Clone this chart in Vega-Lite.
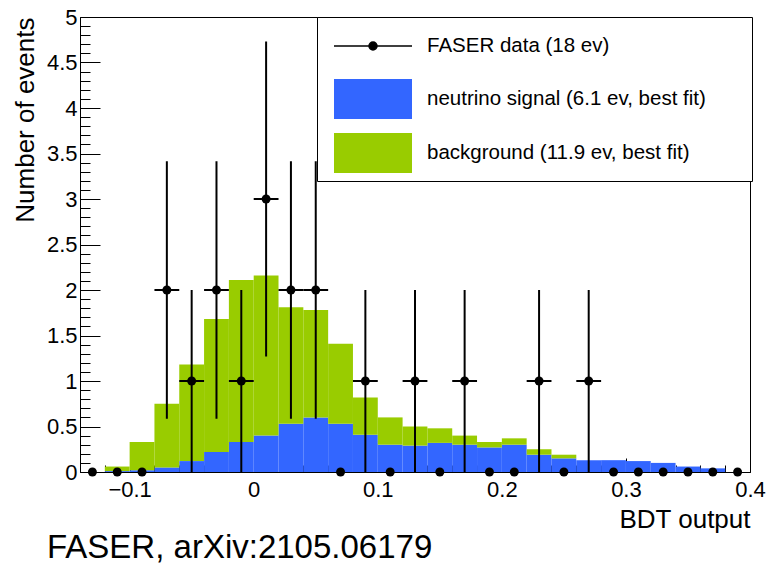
{
  "$schema": "https://vega.github.io/schema/vega-lite/v6.json",
  "autosize": "none",
  "width": 670,
  "height": 455,
  "padding": {"left": 80, "top": 17, "right": 20, "bottom": 91},
  "background": "white",
  "title": {
    "text": "FASER, arXiv:2105.06179",
    "orient": "bottom",
    "anchor": "start",
    "frame": "group",
    "offset": 0,
    "dx": -33,
    "fontSize": 33,
    "fontWeight": "normal",
    "font": "Liberation Sans",
    "color": "black"
  },
  "datasets": {
    "hist": [
      {"x0": -0.12, "x1": -0.10, "comp": "neutrino signal (6.1 ev, best fit)", "n": 0.01},
      {"x0": -0.10, "x1": -0.08, "comp": "neutrino signal (6.1 ev, best fit)", "n": 0.02},
      {"x0": -0.08, "x1": -0.06, "comp": "neutrino signal (6.1 ev, best fit)", "n": 0.05},
      {"x0": -0.06, "x1": -0.04, "comp": "neutrino signal (6.1 ev, best fit)", "n": 0.12},
      {"x0": -0.04, "x1": -0.02, "comp": "neutrino signal (6.1 ev, best fit)", "n": 0.22},
      {"x0": -0.02, "x1": 0.00, "comp": "neutrino signal (6.1 ev, best fit)", "n": 0.33},
      {"x0": 0.00, "x1": 0.02, "comp": "neutrino signal (6.1 ev, best fit)", "n": 0.40},
      {"x0": 0.02, "x1": 0.04, "comp": "neutrino signal (6.1 ev, best fit)", "n": 0.53},
      {"x0": 0.04, "x1": 0.06, "comp": "neutrino signal (6.1 ev, best fit)", "n": 0.60},
      {"x0": 0.06, "x1": 0.08, "comp": "neutrino signal (6.1 ev, best fit)", "n": 0.53},
      {"x0": 0.08, "x1": 0.10, "comp": "neutrino signal (6.1 ev, best fit)", "n": 0.41},
      {"x0": 0.10, "x1": 0.12, "comp": "neutrino signal (6.1 ev, best fit)", "n": 0.30},
      {"x0": 0.12, "x1": 0.14, "comp": "neutrino signal (6.1 ev, best fit)", "n": 0.29},
      {"x0": 0.14, "x1": 0.16, "comp": "neutrino signal (6.1 ev, best fit)", "n": 0.32},
      {"x0": 0.16, "x1": 0.18, "comp": "neutrino signal (6.1 ev, best fit)", "n": 0.30},
      {"x0": 0.18, "x1": 0.20, "comp": "neutrino signal (6.1 ev, best fit)", "n": 0.27},
      {"x0": 0.20, "x1": 0.22, "comp": "neutrino signal (6.1 ev, best fit)", "n": 0.30},
      {"x0": 0.22, "x1": 0.24, "comp": "neutrino signal (6.1 ev, best fit)", "n": 0.19},
      {"x0": 0.24, "x1": 0.26, "comp": "neutrino signal (6.1 ev, best fit)", "n": 0.15},
      {"x0": 0.26, "x1": 0.28, "comp": "neutrino signal (6.1 ev, best fit)", "n": 0.13},
      {"x0": 0.28, "x1": 0.30, "comp": "neutrino signal (6.1 ev, best fit)", "n": 0.13},
      {"x0": 0.30, "x1": 0.32, "comp": "neutrino signal (6.1 ev, best fit)", "n": 0.12},
      {"x0": 0.32, "x1": 0.34, "comp": "neutrino signal (6.1 ev, best fit)", "n": 0.10},
      {"x0": 0.34, "x1": 0.36, "comp": "neutrino signal (6.1 ev, best fit)", "n": 0.06},
      {"x0": 0.36, "x1": 0.38, "comp": "neutrino signal (6.1 ev, best fit)", "n": 0.04},
      {"x0": -0.12, "x1": -0.10, "comp": "background (11.9 ev, best fit)", "n": 0.05},
      {"x0": -0.10, "x1": -0.08, "comp": "background (11.9 ev, best fit)", "n": 0.31},
      {"x0": -0.08, "x1": -0.06, "comp": "background (11.9 ev, best fit)", "n": 0.70},
      {"x0": -0.06, "x1": -0.04, "comp": "background (11.9 ev, best fit)", "n": 1.06},
      {"x0": -0.04, "x1": -0.02, "comp": "background (11.9 ev, best fit)", "n": 1.46},
      {"x0": -0.02, "x1": 0.00, "comp": "background (11.9 ev, best fit)", "n": 1.78},
      {"x0": 0.00, "x1": 0.02, "comp": "background (11.9 ev, best fit)", "n": 1.76},
      {"x0": 0.02, "x1": 0.04, "comp": "background (11.9 ev, best fit)", "n": 1.28},
      {"x0": 0.04, "x1": 0.06, "comp": "background (11.9 ev, best fit)", "n": 1.18},
      {"x0": 0.06, "x1": 0.08, "comp": "background (11.9 ev, best fit)", "n": 0.88},
      {"x0": 0.08, "x1": 0.10, "comp": "background (11.9 ev, best fit)", "n": 0.41},
      {"x0": 0.10, "x1": 0.12, "comp": "background (11.9 ev, best fit)", "n": 0.30},
      {"x0": 0.12, "x1": 0.14, "comp": "background (11.9 ev, best fit)", "n": 0.21},
      {"x0": 0.14, "x1": 0.16, "comp": "background (11.9 ev, best fit)", "n": 0.16},
      {"x0": 0.16, "x1": 0.18, "comp": "background (11.9 ev, best fit)", "n": 0.10},
      {"x0": 0.18, "x1": 0.20, "comp": "background (11.9 ev, best fit)", "n": 0.06},
      {"x0": 0.20, "x1": 0.22, "comp": "background (11.9 ev, best fit)", "n": 0.07},
      {"x0": 0.22, "x1": 0.24, "comp": "background (11.9 ev, best fit)", "n": 0.06},
      {"x0": 0.24, "x1": 0.26, "comp": "background (11.9 ev, best fit)", "n": 0.04}
    ],
    "points": [
      {"x": -0.13, "x0": -0.14, "x1": -0.12, "n": 0, "lo": 0, "hi": 0},
      {"x": -0.11, "x0": -0.12, "x1": -0.10, "n": 0, "lo": 0, "hi": 0},
      {"x": -0.09, "x0": -0.10, "x1": -0.08, "n": 0, "lo": 0, "hi": 0},
      {"x": -0.07, "x0": -0.08, "x1": -0.06, "n": 2, "lo": 0.586, "hi": 3.414},
      {"x": -0.05, "x0": -0.06, "x1": -0.04, "n": 1, "lo": 0, "hi": 2},
      {"x": -0.03, "x0": -0.04, "x1": -0.02, "n": 2, "lo": 0.586, "hi": 3.414},
      {"x": -0.01, "x0": -0.02, "x1": 0.00, "n": 1, "lo": 0, "hi": 2},
      {"x": 0.01, "x0": 0.00, "x1": 0.02, "n": 3, "lo": 1.268, "hi": 4.732},
      {"x": 0.03, "x0": 0.02, "x1": 0.04, "n": 2, "lo": 0.586, "hi": 3.414},
      {"x": 0.05, "x0": 0.04, "x1": 0.06, "n": 2, "lo": 0.586, "hi": 3.414},
      {"x": 0.07, "x0": 0.06, "x1": 0.08, "n": 0, "lo": 0, "hi": 0},
      {"x": 0.09, "x0": 0.08, "x1": 0.10, "n": 1, "lo": 0, "hi": 2},
      {"x": 0.11, "x0": 0.10, "x1": 0.12, "n": 0, "lo": 0, "hi": 0},
      {"x": 0.13, "x0": 0.12, "x1": 0.14, "n": 1, "lo": 0, "hi": 2},
      {"x": 0.15, "x0": 0.14, "x1": 0.16, "n": 0, "lo": 0, "hi": 0},
      {"x": 0.17, "x0": 0.16, "x1": 0.18, "n": 1, "lo": 0, "hi": 2},
      {"x": 0.19, "x0": 0.18, "x1": 0.20, "n": 0, "lo": 0, "hi": 0},
      {"x": 0.21, "x0": 0.20, "x1": 0.22, "n": 0, "lo": 0, "hi": 0},
      {"x": 0.23, "x0": 0.22, "x1": 0.24, "n": 1, "lo": 0, "hi": 2},
      {"x": 0.25, "x0": 0.24, "x1": 0.26, "n": 0, "lo": 0, "hi": 0},
      {"x": 0.27, "x0": 0.26, "x1": 0.28, "n": 1, "lo": 0, "hi": 2},
      {"x": 0.29, "x0": 0.28, "x1": 0.30, "n": 0, "lo": 0, "hi": 0},
      {"x": 0.31, "x0": 0.30, "x1": 0.32, "n": 0, "lo": 0, "hi": 0},
      {"x": 0.33, "x0": 0.32, "x1": 0.34, "n": 0, "lo": 0, "hi": 0},
      {"x": 0.35, "x0": 0.34, "x1": 0.36, "n": 0, "lo": 0, "hi": 0},
      {"x": 0.37, "x0": 0.36, "x1": 0.38, "n": 0, "lo": 0, "hi": 0},
      {"x": 0.39, "x0": 0.38, "x1": 0.40, "n": 0, "lo": 0, "hi": 0}
    ]
  },
  "resolve": {"axis": {"x": "independent", "y": "independent"}},
  "layer": [
    {
      "data": {"name": "hist"},
      "transform": [
        {"stack": "n", "groupby": ["x0"], "sort": [{"field": "comp", "order": "descending"}], "as": ["y0", "y1"]}
      ],
      "mark": {"type": "rect", "strokeWidth": 0},
      "encoding": {
        "x": {
          "field": "x0", "type": "quantitative",
          "scale": {"domain": [-0.14, 0.4], "nice": false, "zero": false},
          "axis": {
            "orient": "bottom",
            "title": "BDT output",
            "values": [-0.1, 0, 0.1, 0.2, 0.3, 0.4],
            "format": "~g",
            "tickSize": -14,
            "labelPadding": 21,
            "labelFlush": false,
            "labelOverlap": false,
            "titleAnchor": "end",
            "titlePadding": 6
          }
        },
        "x2": {"field": "x1"},
        "y": {
          "field": "y0", "type": "quantitative",
          "scale": {"domain": [0, 5], "nice": false},
          "axis": {
            "orient": "left",
            "title": "Number of events",
            "values": [0, 0.5, 1, 1.5, 2, 2.5, 3, 3.5, 4, 4.5, 5],
            "format": "~g",
            "tickSize": -20,
            "labelPadding": 23,
            "labelFlush": false,
            "labelOverlap": false,
            "titleAnchor": "end",
            "titlePadding": 8
          }
        },
        "y2": {"field": "y1"},
        "color": {
          "field": "comp", "type": "nominal",
          "scale": {
            "domain": ["FASER data (18 ev)", "neutrino signal (6.1 ev, best fit)", "background (11.9 ev, best fit)"],
            "range": ["black", "#3366ff", "#99cc00"]
          },
          "legend": {
            "orient": "none",
            "legendX": 237,
            "legendY": 0,
            "title": null,
            "symbolSize": 1600,
            "symbolOffset": 8,
            "symbolStrokeWidth": 1.5,
            "labelOffset": 52,
            "labelFontSize": 20.5,
            "labelFont": "Liberation Sans",
            "labelColor": "black",
            "labelLimit": 500,
            "padding": 8,
            "rowPadding": 13,
            "fillColor": "white",
            "strokeColor": "black",
            "encode": {
              "symbols": {
                "update": {
                  "shape": {"signal": "datum.value === 'FASER data (18 ev)' ? 'M-1,-0.8M19.35,0.8M-1,0H2.9M1.15,0A0.2,0.2,0,1,1,0.75,0A0.2,0.2,0,1,1,1.15,0Z' : 'M19.35,0M-1,-1H2.9V1H-1Z'"},
                  "stroke": {"signal": "datum.value === 'FASER data (18 ev)' ? 'black' : null"},
                  "opacity": {"value": 1}
                }
              }
            }
          }
        }
      }
    },
    {
      "data": {"name": "points"},
      "transform": [{"filter": "datum.n > 0"}],
      "mark": {"type": "rule", "color": "black", "strokeWidth": 2},
      "encoding": {
        "x": {"field": "x", "type": "quantitative", "axis": null},
        "y": {"field": "lo", "type": "quantitative", "axis": null},
        "y2": {"field": "hi"}
      }
    },
    {
      "data": {"name": "points"},
      "transform": [{"filter": "datum.n > 0"}],
      "mark": {"type": "rule", "color": "black", "strokeWidth": 2},
      "encoding": {
        "x": {"field": "x0", "type": "quantitative", "axis": null},
        "x2": {"field": "x1"},
        "y": {"field": "n", "type": "quantitative", "axis": null}
      }
    },
    {
      "data": {"name": "points"},
      "mark": {"type": "circle", "size": 80, "opacity": 1},
      "encoding": {
        "x": {
          "field": "x", "type": "quantitative",
          "axis": {
            "orient": "bottom",
            "values": [-0.12, -0.08, -0.06, -0.04, -0.02, 0.02, 0.04, 0.06, 0.08, 0.12, 0.14, 0.16, 0.18, 0.22, 0.24, 0.26, 0.28, 0.32, 0.34, 0.36, 0.38],
            "tickSize": -7,
            "labels": false,
            "domain": false,
            "title": null
          }
        },
        "y": {
          "field": "n", "type": "quantitative",
          "axis": {
            "orient": "left",
            "values": [0.1, 0.2, 0.3, 0.4, 0.6, 0.7, 0.8, 0.9, 1.1, 1.2, 1.3, 1.4, 1.6, 1.7, 1.8, 1.9, 2.1, 2.2, 2.3, 2.4, 2.6, 2.7, 2.8, 2.9, 3.1, 3.2, 3.3, 3.4, 3.6, 3.7, 3.8, 3.9, 4.1, 4.2, 4.3, 4.4, 4.6, 4.7, 4.8, 4.9],
            "tickSize": -10,
            "labels": false,
            "domain": false,
            "title": null
          }
        },
        "color": {"datum": "FASER data (18 ev)"}
      }
    }
  ],
  "config": {
    "font": "Liberation Sans",
    "view": {"stroke": "black", "strokeWidth": 1},
    "axis": {
      "grid": false,
      "domainColor": "black",
      "tickColor": "black",
      "tickWidth": 1,
      "labelColor": "black",
      "labelFont": "Liberation Sans",
      "labelFontSize": 22,
      "titleFont": "Liberation Sans",
      "titleFontSize": 26,
      "titleFontWeight": "normal",
      "titleColor": "black"
    }
  }
}
